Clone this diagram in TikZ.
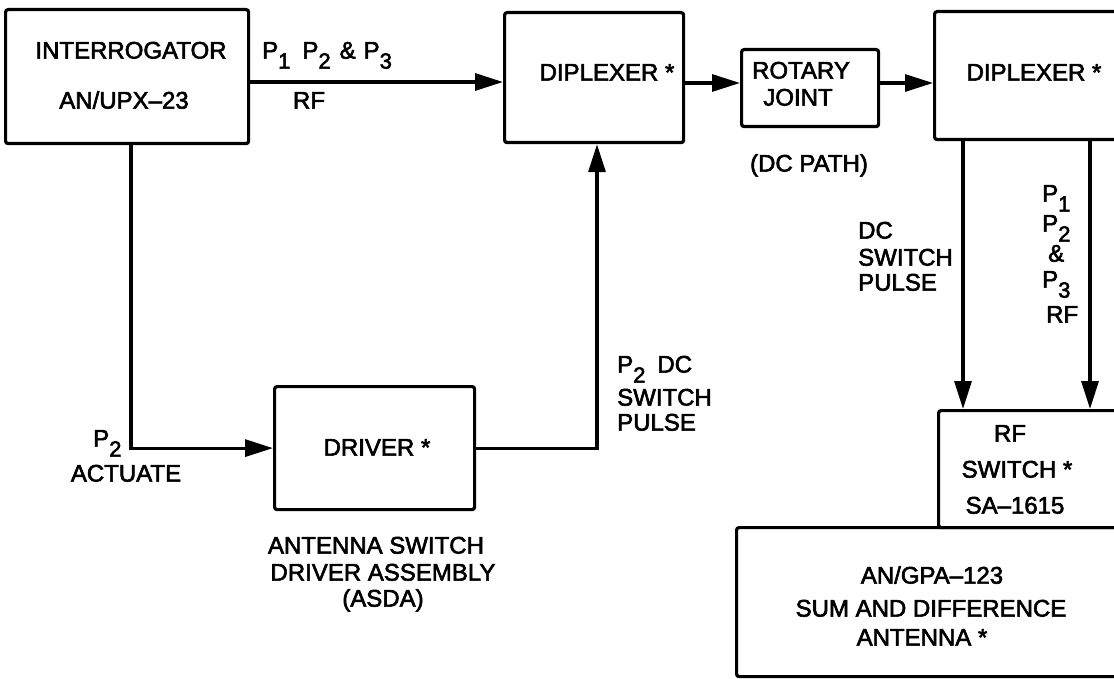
\documentclass[tikz,border=0pt]{standalone}
\usepackage{fontspec}
\setmainfont{Liberation Sans}
\newfontfamily\dfont{Liberation Sans}[FakeBold=2.5]
\usetikzlibrary{arrows.meta}
\newcommand\fsz{\dfont\fontsize{24}{27}\selectfont}
\newcommand\sbs[1]{\raisebox{-10pt}{\fontsize{22}{22}\selectfont #1}}
\begin{document}
\begin{tikzpicture}[x=1pt,y=-1pt,
  box/.style={draw, line width=3.2pt, rounded corners=2.5pt, inner sep=0pt, anchor=north west},
  txt/.style={font=\fsz, inner sep=0pt, anchor=base},
  txtl/.style={font=\fsz, inner sep=0pt, anchor=base west},
  conn/.style={line width=3.2pt, -{Triangle[length=28pt,width=17pt]}},
]
\useasboundingbox (0,0) rectangle (1114,679);
\clip (0,0) rectangle (1114,679);
\fill[white] (0,0) rectangle (1114,679);

% boxes
\node[box, minimum width=243pt, minimum height=134pt] (intr) at (4,8) {};
\node[box, minimum width=179pt, minimum height=130pt] (dip1) at (503,11) {};
\node[box, minimum width=137pt, minimum height=77pt] (rot) at (740,48) {};
\node[box, minimum width=220pt, minimum height=128pt] (dip2) at (933,10) {};
\node[box, minimum width=200pt, minimum height=123pt] (drv) at (273,385) {};
\node[box, minimum width=220pt, minimum height=117pt] (rfs) at (937,409) {};
\node[box, minimum width=440pt, minimum height=149pt] (ant) at (735,526) {};

% helper coordinates
\coordinate (ya) at (0,82);
\coordinate (yb) at (0,83);
\coordinate (xa) at (131,0);
\coordinate (xb) at (597,0);
\coordinate (xc) at (963,0);
\coordinate (xd) at (1090,0);

% connectors
\draw[conn] (intr.east |- ya) -- (dip1.west |- ya);
\draw[conn] (dip1.east |- yb) -- (rot.west |- yb);
\draw[conn] (rot.east |- yb) -- (dip2.west |- yb);
\draw[conn] (intr.south -| xa) |- (drv.west);
\draw[conn] (drv.east) -| (xb |- dip1.south);
\draw[conn] (dip2.south -| xc) -- (rfs.north -| xc);
\draw[conn] (dip2.south -| xd) -- (rfs.north -| xd);

% texts
\node[txt] (t1) at (131,58.6) {INTERROGATOR};
\node[txt] (t2) at (124,108.6) {AN/UPX–23};
\node[txtl] (t3) at (262,58.6) {P\sbs{1}\hspace{12pt}P\sbs{2}\hspace{9pt}\&\hspace{8pt}P\sbs{3}};
\node[txt] (t4) at (309,108.6) {RF};
\node[txt] (t5) at (607,80.6) {DIPLEXER *};
\node[txt] (t6) at (801,78.6) {ROTARY};
\node[txt] (t7) at (798,105.6) {JOINT};
\node[txt] (t8) at (809,171.6) {(DC PATH)};
\node[txt] (t9) at (1034,80.6) {DIPLEXER *};

\node[txtl] (r1) at (1042,201.6) {P\sbs{1}};
\node[txtl] (r2) at (1042,231.6) {P\sbs{2}};
\node[txtl] (r3) at (1048,261.6) {\&};
\node[txtl] (r4) at (1042,287.6) {P\sbs{3}};
\node[txtl] (r5) at (1046,322.6) {RF};

\node[txtl] (d1) at (858,238.6) {DC};
\node[txtl] (d2) at (858,265.6) {SWITCH};
\node[txtl] (d3) at (858,290.6) {PULSE};

\node[txtl] (p1) at (617,372.6) {P\sbs{2}\hspace{12pt}DC};
\node[txtl] (p2) at (617,405.6) {SWITCH};
\node[txtl] (p3) at (617,430.6) {PULSE};

\node[txtl] (a1) at (93,446.6) {P\sbs{2}};
\node[txt] (a2) at (126,481.6) {ACTUATE};
\node[txt] (a3) at (377,455.6) {DRIVER *};
\node[txt] (a4) at (376,553.6) {ANTENNA SWITCH};
\node[txt] (a5) at (383,580.6) {DRIVER ASSEMBLY};
\node[txt] (a6) at (383,606.6) {(ASDA)};

\node[txt] (s1) at (1010,441.6) {RF};
\node[txt] (s2) at (1017,477.6) {SWITCH *};
\node[txt] (s3) at (1015,513.6) {SA–1615};

\node[txt] (n1) at (932,583.6) {AN/GPA–123};
\node[txt] (n2) at (931,616.6) {SUM AND DIFFERENCE};
\node[txt] (n3) at (922,645.6) {ANTENNA *};
\end{tikzpicture}
\end{document}
